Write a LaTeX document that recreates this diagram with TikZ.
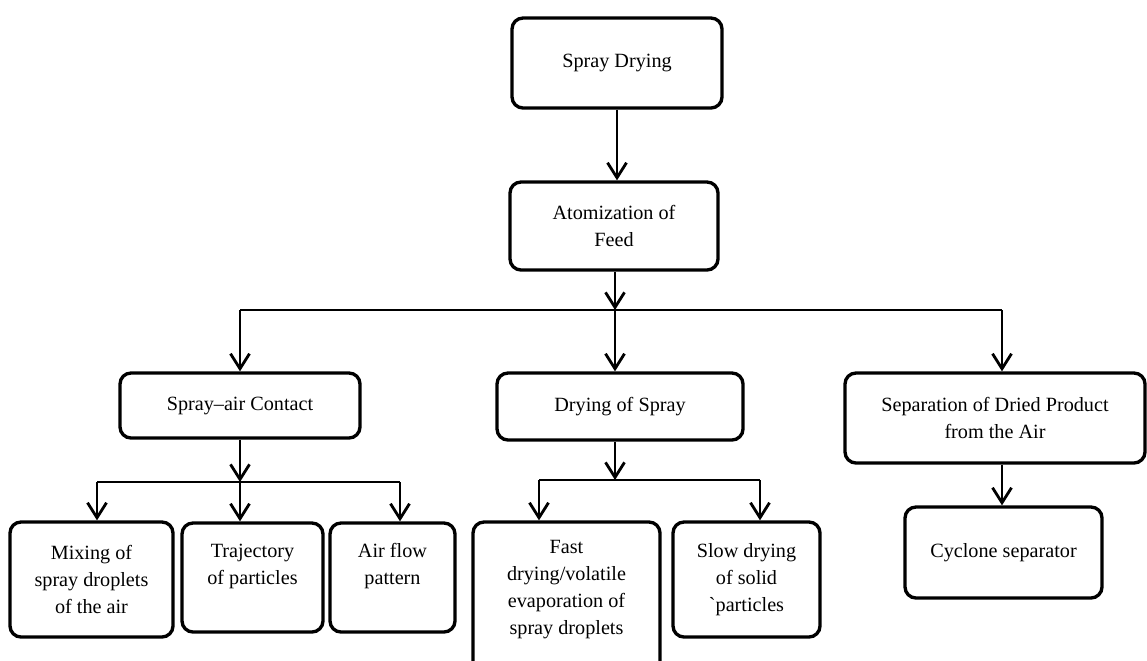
\documentclass[tikz,border=0pt]{standalone}
\usepackage{fontspec}
\setmainfont{Liberation Serif}
\usetikzlibrary{arrows.meta}
\newdimen\pxu
\pxu=0.02cm
\begin{document}
\begin{tikzpicture}[x=0.02cm,y=-0.02cm,
  box/.style={draw, line width=1.9pt, rounded corners=0.22cm, align=center,
    inner sep=2pt, font=\fontsize{11.5}{15.3}\selectfont},
  arr/.style={line width=1.6pt, -{Straight Barb[length=3mm,width=3.8mm,line width=1.6pt]}},
  ln/.style={line width=1.6pt}]
\useasboundingbox (0,0) rectangle (1147,660);
\clip (0,0) rectangle (1147,660);
% boxes
\node[box, minimum width=210\pxu, minimum height=90\pxu] (sd) at (617,63) {Spray Drying};
\node[box, minimum width=208\pxu, minimum height=88\pxu] (at) at (614,226) {Atomization of\\Feed};
\node[box, minimum width=240\pxu, minimum height=65\pxu] (sac) at (240,405.5) {Spray--air Contact};
\node[box, minimum width=246\pxu, minimum height=67\pxu] (dos) at (620,406.5) {Drying of Spray};
\node[box, minimum width=300\pxu, minimum height=90\pxu] (sep) at (995,418) {Separation of Dried Product\\from the Air};
\node[box, minimum width=163\pxu, minimum height=115\pxu] (mix) at (91.5,579.5) {Mixing of\\spray droplets\\of the air};
\node[box, minimum width=141\pxu, minimum height=109\pxu] (traj) at (252.5,577.5) {Trajectory\\of particles\\\mbox{}};
\node[box, minimum width=125\pxu, minimum height=109\pxu] (air) at (392.5,577.5) {Air flow\\pattern\\\mbox{}};
\node[box, minimum width=187\pxu, minimum height=158\pxu] (fast) at (566.5,601) {Fast\\drying/volatile\\evaporation of\\spray droplets\\\mbox{}};
\node[box, minimum width=147\pxu, minimum height=115\pxu] (slow) at (746.5,579.5) {Slow drying\\of solid\\\textasciigrave particles};
\node[box, minimum width=197\pxu, minimum height=91\pxu] (cyc) at (1003.5,552.5) {Cyclone separator};
% branch coordinates
\coordinate (bc) at (615,310);
\coordinate (bl) at (240,310);
\coordinate (brr) at (1002,310);
\coordinate (sc) at (240,482);
\coordinate (sl) at (97,482);
\coordinate (sr) at (400,482);
\coordinate (dc) at (615,480);
\coordinate (dl) at (539,480);
\coordinate (dr) at (760,480);
% connectors
\draw[arr] (sd.south) -- (sd.south |- at.north);
\draw[arr] (at.south -| bc) -- (bc);
\draw[ln] (bl) -- (brr);
\draw[arr] (bc) -- (bc |- dos.north);
\draw[arr] (bl) -- (bl |- sac.north);
\draw[arr] (brr) -- (brr |- sep.north);
\draw[arr] (sac.south -| sc) -- (sc);
\draw[ln] (sl) -- (sr);
\draw[arr] (sl) -- (sl |- mix.north);
\draw[arr] (sc) -- (sc |- traj.north);
\draw[arr] (sr) -- (sr |- air.north);
\draw[arr] (dos.south -| dc) -- (dc);
\draw[ln] (dl) -- (dr);
\draw[arr] (dl) -- (dl |- fast.north);
\draw[arr] (dr) -- (dr |- slow.north);
\draw[arr] (sep.south -| brr) -- (brr |- cyc.north);
\end{tikzpicture}
\end{document}
